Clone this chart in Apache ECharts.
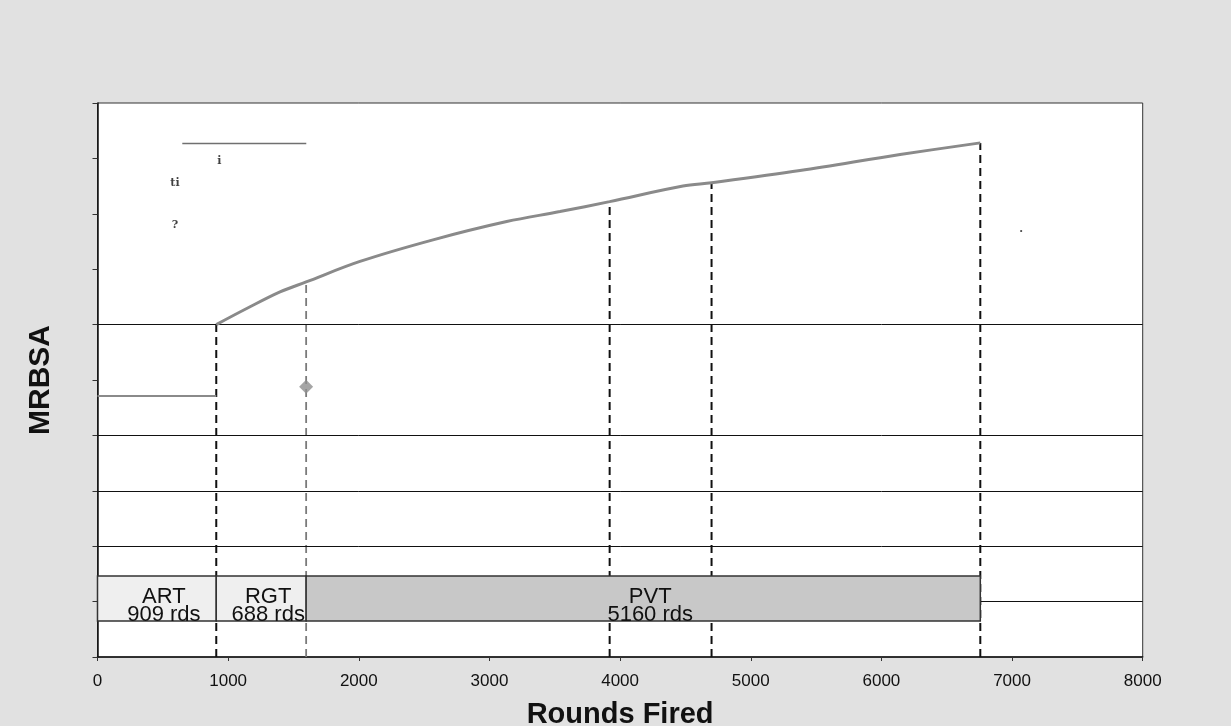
<!DOCTYPE html>
<html>
<head>
<meta charset="utf-8">
<script src="https://cdn.jsdelivr.net/npm/echarts@6/dist/echarts.min.js"></script>
<style>
html,body{margin:0;padding:0;background:#e1e1e1;}
#c{width:1231px;height:726px;}
</style>
</head>
<body>
<div id="c"></div>
<script>
// ---- data ----
const xTicks = [0, 1000, 2000, 3000, 4000, 5000, 6000, 7000, 8000];
const curveX = [909, 1142, 1397, 1597, 2009, 2568, 3132, 3540, 3920, 4481, 4700, 5377, 6143, 6757];
const curveY = [6.00, 6.29, 6.59, 6.77, 7.14, 7.53, 7.86, 8.04, 8.22, 8.50, 8.56, 8.78, 9.07, 9.28];
const flatX = [0, 909];
const flatY = [4.71, 4.71];
const diamondX = [1597];
const diamondY = [4.88];
const topLineX = [649, 1598];
const topLineY = [9.27, 9.27];
const gridLevels = [1, 2, 3, 4, 6];
const blackDropX = [909, 3920, 4700, 6757];
const blackDropTop = [6.00, 8.22, 8.56, 9.28];
const grayDropX = [1597];
const grayDropTop = [6.77];
const phaseNames = ['ART', 'RGT', 'PVT'];
const phaseStart = [0, 909, 1597];
const phaseEnd = [909, 1597, 6757];
const phaseRounds = [909, 688, 5160];
const boxBottom = 0.65;
const boxTop = 1.46;
const noteText = ['i', 'ti', '?', '.'];
const noteX = [932, 593, 593, 7069];
const noteY = [8.95, 8.56, 7.80, 7.73];

// ---- chart ----
const chart = echarts.init(document.getElementById('c'));
const phaseFill = ['#efefef', '#efefef', '#c8c8c8'];
const series = [];

// horizontal grid lines
series.push({
  type: 'line', data: [], silent: true,
  markLine: {
    symbol: 'none', silent: true, label: {show: false},
    lineStyle: {color: '#111', width: 1, type: 'solid'},
    data: gridLevels.map(v => ({yAxis: v}))
  }
});

// vertical drop lines
blackDropX.forEach((x, i) => {
  series.push({
    type: 'line', data: [[x, 0], [x, blackDropTop[i]]], symbol: 'none', z: 3,
    lineStyle: {color: '#111', width: 2, type: [8, 5]}
  });
});
grayDropX.forEach((x, i) => {
  series.push({
    type: 'line', data: [[x, 0], [x, grayDropTop[i]]], symbol: 'none', z: 3,
    lineStyle: {color: '#7a7a7a', width: 1.8, type: [8, 5]}
  });
});

// main curve
series.push({
  type: 'line', data: curveX.map((x, i) => [x, curveY[i]]), symbol: 'none', z: 5, smooth: 0.35,
  lineStyle: {color: '#8a8a8a', width: 3}
});
// flat line
series.push({
  type: 'line', data: flatX.map((x, i) => [x, flatY[i]]), symbol: 'none', z: 5,
  lineStyle: {color: '#8a8a8a', width: 2}
});
// top-left short line
series.push({
  type: 'line', data: topLineX.map((x, i) => [x, topLineY[i]]), symbol: 'none', z: 5,
  lineStyle: {color: '#707070', width: 1.5}
});
// diamond
series.push({
  type: 'scatter', data: diamondX.map((x, i) => [x, diamondY[i]]), symbol: 'diamond', symbolSize: 14, z: 6,
  itemStyle: {color: '#8e8e8e'}
});
// notes
series.push({
  type: 'scatter', data: noteX.map((x, i) => [x, noteY[i], noteText[i]]), symbolSize: 0, z: 6,
  label: {show: true, position: 'inside', formatter: p => p.value[2],
    fontFamily: 'DejaVu Serif', fontSize: 11, fontWeight: 'bold', color: '#111'}
});
// phase boxes
series.push({
  type: 'custom', z: 10,
  data: phaseNames.map((n, i) => [phaseStart[i], phaseEnd[i], phaseRounds[i], n]),
  renderItem: function (params, api) {
    const i = params.dataIndex;
    const p0 = api.coord([api.value(0), boxTop]);
    const p1 = api.coord([api.value(1), boxBottom]);
    const cx = (p0[0] + p1[0]) / 2 + 7;
    const cy = (p0[1] + p1[1]) / 2 + 7;
    return {
      type: 'group',
      children: [
        {type: 'rect', shape: {x: p0[0], y: p0[1], width: p1[0] - p0[0], height: p1[1] - p0[1]},
         style: {fill: phaseFill[i], stroke: '#333', lineWidth: 1.5}},
        {type: 'text', style: {text: phaseNames[i] + '\n' + api.value(2) + ' rds', x: cx, y: cy,
          align: 'center', verticalAlign: 'middle', fontFamily: 'Liberation Sans, Arial', fontSize: 22,
          lineHeight: 18, fill: '#111'}}
      ]
    };
  }
});

chart.setOption({
  backgroundColor: '#e1e1e1',
  animation: false,
  grid: {left: 97.5, right: 88.3, top: 103, bottom: 69, show: true, backgroundColor: '#ffffff',
    borderColor: '#333', borderWidth: 1, outerBoundsMode: 'none', containLabel: false},
  xAxis: {
    type: 'value', min: 0, max: 8000, interval: 1000,
    name: 'Rounds Fired', nameLocation: 'middle', nameGap: 43,
    nameTextStyle: {fontFamily: 'Liberation Sans, Arial', fontWeight: 'bold', fontSize: 29, color: '#111'},
    axisLine: {lineStyle: {color: '#111', width: 1.5}},
    axisTick: {show: true, length: 4, lineStyle: {color: '#333'}},
    axisLabel: {fontFamily: 'Liberation Sans, Arial', fontSize: 17, color: '#111', margin: 16,
      formatter: v => xTicks.includes(v) ? String(v) : ''},
    splitLine: {show: false}
  },
  yAxis: {
    type: 'value', min: 0, max: 10, interval: 1,
    name: 'MRBSA', nameLocation: 'middle', nameGap: 42,
    nameTextStyle: {fontFamily: 'Liberation Sans, Arial', fontWeight: 'bold', fontSize: 30, color: '#111'},
    axisLine: {show: true, lineStyle: {color: '#111', width: 1.5}},
    axisTick: {show: true, length: 5, lineStyle: {color: '#333'}},
    axisLabel: {show: false},
    splitLine: {show: false}
  },
  series: series
});
</script>
</body>
</html>
